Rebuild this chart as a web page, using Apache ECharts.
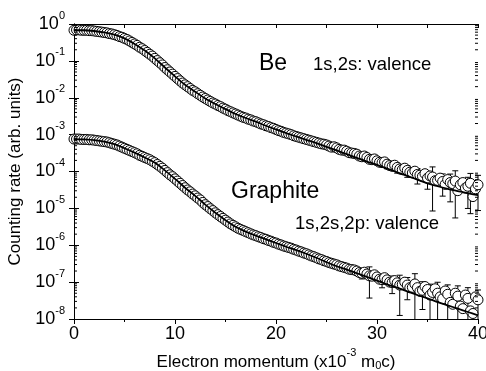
<!DOCTYPE html>
<html><head><meta charset="utf-8">
<script src="https://cdn.jsdelivr.net/npm/echarts@6/dist/echarts.min.js"></script>
<style>html,body{margin:0;padding:0;background:#fff}#c{width:486px;height:371px}</style>
</head><body><div id="c"></div>
<script>
// ---- data ----
const dataX = [
0,0.25,0.5,0.75, 1,1.25,1.5,1.75, 2,2.25,2.5,2.75, 3,3.25,3.5,3.75, 4,4.25,4.5,4.75,
5,5.25,5.5,5.75, 6,6.25,6.5,6.75, 7,7.25,7.5,7.75, 8,8.25,8.5,8.75, 9,9.25,9.5,9.75,
10,10.25,10.5,10.75, 11,11.25,11.5,11.75, 12,12.25,12.5,12.75, 13,13.25,13.5,13.75, 14,14.25,14.5,14.75,
15,15.25,15.5,15.75, 16,16.25,16.5,16.75, 17,17.25,17.5,17.75, 18,18.25,18.5,18.75, 19,19.25,19.5,19.75,
20,20.25,20.5,20.75, 21,21.25,21.5,21.75, 22,22.25,22.5,22.75, 23,23.25,23.5,23.75, 24,24.25,24.5,24.75,
25,25.25,25.5,25.75, 26,26.25,26.5,26.75, 27,27.25,27.5,27.75, 28,28.25,28.5,28.75, 29,29.25,29.5,29.75,
30,30.25,30.5,30.75, 31,31.25,31.5,31.75, 32,32.25,32.5,32.75, 33,33.25,33.5,33.75, 34,34.25,34.5,34.75,
35,35.25,35.5,35.75, 36,36.25,36.5,36.75, 37,37.25,37.5,37.75, 38,38.25,38.5,38.75, 39,39.25,39.5,39.75, 40];
const beY = [
0.676,0.692,0.692,0.676, 0.676,0.676,0.661,0.661, 0.646,0.631,0.617,0.603, 0.589,0.575,0.550,0.537, 0.513,0.490,0.457,0.437,
0.407,0.380,0.347,0.316, 0.288,0.263,0.234,0.214, 0.191,0.170,0.151,0.135, 0.117,0.102,0.0891,0.0776, 0.0661,0.0575,0.0501,0.0437,
0.0380,0.0331,0.0288,0.0251, 0.0224,0.0200,0.0178,0.0158, 0.0145,0.0129,0.0117,0.0105, 0.00955,0.00871,0.00794,0.00724, 0.00676,0.00617,0.00575,0.00525,
0.00490,0.00447,0.00417,0.00389, 0.00363,0.00339,0.00316,0.00295, 0.00282,0.00263,0.00251,0.00234, 0.00224,0.00209,0.00195,0.00186, 0.00174,0.00166,0.00155,0.00148,
0.00138,0.00129,0.00123,0.00115, 0.00110,0.00105,0.00100,9.33e-4, 8.91e-4,8.51e-4,8.13e-4,7.76e-4, 7.41e-4,7.08e-4,6.76e-4,6.46e-4, 6.17e-4,5.89e-4,5.62e-4,5.50e-4,
5.25e-4,4.90e-4,4.57e-4,4.68e-4, 4.37e-4,3.98e-4,3.80e-4,3.80e-4, 3.55e-4,3.24e-4,3.16e-4,3.09e-4, 2.95e-4,2.63e-4,2.51e-4,2.63e-4, 2.40e-4,2.14e-4,2.09e-4,2.19e-4,
1.95e-4,1.78e-4,1.74e-4,1.82e-4, 1.58e-4,1.45e-4,1.38e-4,1.48e-4, 1.29e-4,1.17e-4,1.12e-4,1.23e-4, 1.07e-4,9.55e-5,9.12e-5,1.02e-4, 8.32e-5,7.94e-5,7.41e-5,8.71e-5,
6.61e-5,7.59e-5,7.08e-5,5.62e-5, 5.75e-5,6.61e-5,5.37e-5,4.47e-5, 6.03e-5,5.01e-5,4.68e-5,5.50e-5, 3.02e-5,4.37e-5,5.01e-5,3.55e-5, 3.98e-5,4.79e-5,2.09e-5,3.39e-5, 4.37e-5];
const grY = [
7.59e-4,7.59e-4,7.59e-4,7.41e-4, 7.41e-4,7.41e-4,7.24e-4,7.24e-4, 7.08e-4,6.92e-4,6.76e-4,6.61e-4, 6.46e-4,6.31e-4,6.03e-4,5.75e-4, 5.50e-4,5.25e-4,4.90e-4,4.57e-4,
4.27e-4,3.98e-4,3.72e-4,3.47e-4, 3.24e-4,3.02e-4,2.75e-4,2.57e-4, 2.40e-4,2.24e-4,2.09e-4,1.91e-4, 1.74e-4,1.55e-4,1.38e-4,1.23e-4, 1.07e-4,9.33e-5,8.13e-5,7.24e-5,
6.31e-5,5.50e-5,4.79e-5,4.17e-5, 3.63e-5,3.16e-5,2.82e-5,2.45e-5, 2.19e-5,1.91e-5,1.70e-5,1.45e-5, 1.26e-5,1.12e-5,9.77e-6,8.71e-6, 7.59e-6,6.76e-6,6.03e-6,5.37e-6,
4.79e-6,4.27e-6,3.80e-6,3.47e-6, 3.16e-6,2.88e-6,2.69e-6,2.51e-6, 2.34e-6,2.19e-6,2.04e-6,1.91e-6, 1.82e-6,1.70e-6,1.62e-6,1.51e-6, 1.45e-6,1.35e-6,1.29e-6,1.20e-6,
1.15e-6,1.07e-6,1.02e-6,9.55e-7, 9.12e-7,8.71e-7,8.32e-7,7.76e-7, 7.41e-7,6.92e-7,6.61e-7,6.17e-7, 5.89e-7,5.50e-7,5.13e-7,4.90e-7, 4.57e-7,4.27e-7,4.07e-7,3.80e-7,
3.63e-7,3.39e-7,3.24e-7,3.09e-7, 2.95e-7,2.75e-7,2.63e-7,2.51e-7, 2.40e-7,2.24e-7,2.19e-7,2.14e-7, 2.00e-7,1.82e-7,1.74e-7,1.86e-7, 1.66e-7,1.48e-7,1.45e-7,1.58e-7,
1.38e-7,1.20e-7,1.17e-7,1.32e-7, 1.15e-7,1.00e-7,9.77e-8,1.10e-7, 9.55e-8,8.32e-8,8.71e-8,1.00e-7, 8.32e-8,7.08e-8,7.24e-8,8.91e-8, 7.08e-8,5.62e-8,6.03e-8,7.59e-8,
6.31e-8,4.47e-8,5.25e-8,6.61e-8, 5.01e-8,3.98e-8,3.55e-8,5.75e-8, 4.68e-8,2.82e-8,2.51e-8,5.01e-8, 4.17e-8,2.24e-8,1.91e-8,4.47e-8, 3.63e-8,1.66e-8,1.41e-8,3.98e-8, 3.31e-8];
// error bars: x of the measured point and relative error (fraction of its value)
const beErrX = [27, 28.5, 30, 31, 32, 33, 34, 35, 35.5, 36.5, 37.25, 37.75, 39, 39.25, 40];
const beErrR = [0.12, 0.15, 0.2, 0.25, 0.3, 0.35, 0.45, 0.5, 0.88, 0.6, 0.7, 0.9, 0.75, 0.85, 0.8];
const grErrX = [18, 20, 22, 24, 26, 27.5, 28.5, 29.25, 30.5, 31.5, 32.25, 33, 33.75, 34.5, 35.25, 36, 37, 38, 39, 40];
const grErrR = [0.05, 0.06, 0.08, 0.1, 0.15, 0.2, 0.3, 0.75, 0.4, 0.5, 0.85, 0.6, 0.9, 0.7, 0.97, 0.98, 0.8, 0.9, 0.95, 0.85];
// fitted curves
const fitX = [0,1,2,3,4,5,6,7,8,9,10,11,12,13,14,15,16,17,18,19,20,21,22,23,24,25,26,27,28,29,30,31,32,33,34,35,36,37,38,39,40];
const beFit = [0.676,0.676,0.646,0.589,0.513,0.407,0.288,0.191,0.117,0.0661,0.0380,0.0224,0.0145,0.00955,0.00676,0.00490,0.00363,0.00282,0.00224,0.00174,0.00138,0.00110,8.91e-4,7.24e-4,5.89e-4,4.68e-4,3.72e-4,2.95e-4,2.34e-4,1.86e-4,1.51e-4,1.20e-4,9.55e-5,7.59e-5,6.03e-5,4.79e-5,3.98e-5,3.39e-5,2.95e-5,2.57e-5,2.29e-5];
const grFit = [7.59e-4,7.41e-4,7.08e-4,6.46e-4,5.50e-4,4.27e-4,3.24e-4,2.40e-4,1.74e-4,1.07e-4,6.31e-5,3.63e-5,2.19e-5,1.26e-5,7.59e-6,4.79e-6,3.16e-6,2.34e-6,1.82e-6,1.45e-6,1.15e-6,9.12e-7,7.41e-7,5.89e-7,4.57e-7,3.47e-7,2.69e-7,2.19e-7,1.74e-7,1.38e-7,1.10e-7,8.71e-8,7.08e-8,5.62e-8,4.47e-8,3.63e-8,2.88e-8,2.34e-8,1.91e-8,1.55e-8,1.26e-8];
const xMin = 0, xMax = 40, xStep = 10;
const yMin = 1e-8, yMax = 1;
const labels = {be: 'Be', beNote: '1s,2s: valence', gr: 'Graphite', grNote: '1s,2s,2p: valence'};
const yTitle = 'Counting rate (arb. units)';
const xTitle = 'Electron momentum (x10{sup|-3} m{sub|0}c)';

// ---- chart ----
const FF = '"Liberation Sans", Arial, sans-serif';
const minorVals = [];
for (let n = -8; n < 0; n++) for (let k = 2; k <= 9; k++) minorVals.push([xMin, k * Math.pow(10, n)]);

function errData(xs, ys, ex, er) {
  return ex.map((x, j) => { const i = xs.indexOf(x); return [x, ys[i], er[j]]; });
}
function errItem(params, api) {
  const x = api.value(0), y = api.value(1), r = api.value(2);
  const lo = Math.max(y * (1 - r), yMin), hi = y * (1 + r);
  const a = api.coord([x, hi]), b = api.coord([x, lo]);
  const st = {stroke: '#000', lineWidth: 1};
  const ch = [
    {type: 'line', shape: {x1: a[0], y1: a[1], x2: b[0], y2: b[1]}, style: st},
    {type: 'line', shape: {x1: a[0] - 3, y1: a[1], x2: a[0] + 3, y2: a[1]}, style: st}
  ];
  if (lo > yMin) ch.push({type: 'line', shape: {x1: b[0] - 3, y1: b[1], x2: b[0] + 3, y2: b[1]}, style: st});
  return {type: 'group', children: ch};
}

const chart = echarts.init(document.getElementById('c'), null, {renderer: 'canvas'});
const supRich = {
  b: {fontSize: 18, lineHeight: 28, fontFamily: FF, color: '#000'},
  s: {fontSize: 11, verticalAlign: 'top', fontFamily: FF, color: '#000'}
};
const circleStyle = {color: '#fff', borderColor: '#000', borderWidth: 1, opacity: 1};
chart.setOption({
  animation: false,
  backgroundColor: '#fff',
  grid: {left: 74, right: 8, top: 24, bottom: 52, containLabel: false, outerBoundsMode: 'none'},
  xAxis: [{
    type: 'value', min: xMin, max: xMax, interval: xStep, position: 'bottom',
    axisLine: {lineStyle: {color: '#000', width: 1}},
    axisTick: {inside: false, length: 5, lineStyle: {color: '#000'}},
    minorTick: {show: true, splitNumber: 2, length: 3, lineStyle: {color: '#000'}},
    splitLine: {show: false},
    axisLabel: {fontSize: 18, color: '#000', fontFamily: FF, margin: 6},
    name: xTitle, nameLocation: 'middle', nameGap: 25,
    nameTextStyle: {fontSize: 17, color: '#000', fontFamily: FF, lineHeight: 28,
      rich: {sup: {fontSize: 11, verticalAlign: 'top', fontFamily: FF, color: '#000'},
             sub: {fontSize: 11, verticalAlign: 'bottom', padding: [0, 0, 4, 0], fontFamily: FF, color: '#000'}}}
  }, {
    type: 'value', min: xMin, max: xMax, interval: xStep, position: 'top',
    axisLine: {lineStyle: {color: '#000', width: 1}},
    axisTick: {inside: true, length: 4, lineStyle: {color: '#000'}},
    minorTick: {show: true, splitNumber: 2, length: 4, lineStyle: {color: '#000'}},
    splitLine: {show: false}, axisLabel: {show: false}
  }],
  yAxis: [{
    type: 'log', logBase: 10, min: yMin, max: yMax, interval: 1, position: 'left',
    axisLine: {show: true, lineStyle: {color: '#000', width: 1}},
    axisTick: {show: true, inside: true, length: 5, lineStyle: {color: '#000'}},
    splitLine: {show: false},
    axisLabel: {margin: 9, formatter: v => '{b|10}{s|' + Math.round(Math.log10(v)) + '}', rich: supRich},
    name: yTitle, nameLocation: 'middle', nameGap: 37, nameRotate: 90,
    nameTextStyle: {fontSize: 17, color: '#000', fontFamily: FF}
  }, {
    type: 'log', logBase: 10, min: yMin, max: yMax, interval: 1, position: 'right',
    axisLine: {show: true, lineStyle: {color: '#000', width: 1}},
    axisTick: {show: true, inside: true, length: 5, lineStyle: {color: '#000'}},
    splitLine: {show: false}, axisLabel: {show: false}
  }],
  series: [
    {type: 'custom', renderItem: errItem, z: 1, silent: true, data: errData(dataX, beY, beErrX, beErrR)},
    {type: 'custom', renderItem: errItem, z: 1, silent: true, data: errData(dataX, grY, grErrX, grErrR)},
    {type: 'scatter', z: 2, symbol: 'circle', symbolSize: 10, itemStyle: circleStyle,
     data: dataX.map((x, i) => [x, beY[i]])},
    {type: 'scatter', z: 2, symbol: 'circle', symbolSize: 10, itemStyle: circleStyle,
     data: dataX.map((x, i) => [x, grY[i]])},
    {type: 'line', z: 3, showSymbol: false, smooth: 0.3, lineStyle: {color: '#000', width: 1.8},
     data: fitX.map((x, i) => [x, beFit[i]])},
    {type: 'line', z: 3, showSymbol: false, smooth: 0.3, lineStyle: {color: '#000', width: 1.8},
     data: fitX.map((x, i) => [x, grFit[i]])},
    {type: 'custom', z: 4, silent: true, data: minorVals,
     renderItem: (params, api) => {
       const v = api.value(1);
       const pl = api.coord([xMin, v]), pr = api.coord([xMax, v]);
       const st = {stroke: '#000', lineWidth: 1};
       return {type: 'group', children: [
         {type: 'line', shape: {x1: pl[0], y1: pl[1], x2: pl[0] + 3, y2: pl[1]}, style: st},
         {type: 'line', shape: {x1: pr[0] - 3, y1: pr[1], x2: pr[0], y2: pr[1]}, style: st}]};
     }}
  ],
  graphic: [
    {type: 'text', left: 259, top: 52, style: {text: labels.be, font: '23px ' + FF, fill: '#000'}},
    {type: 'text', left: 313, top: 55, style: {text: labels.beNote, font: '18.5px ' + FF, fill: '#000'}},
    {type: 'text', left: 231, top: 180, style: {text: labels.gr, font: '23px ' + FF, fill: '#000'}},
    {type: 'text', left: 295, top: 214, style: {text: labels.grNote, font: '18.5px ' + FF, fill: '#000'}}
  ]
});
</script></body></html>
